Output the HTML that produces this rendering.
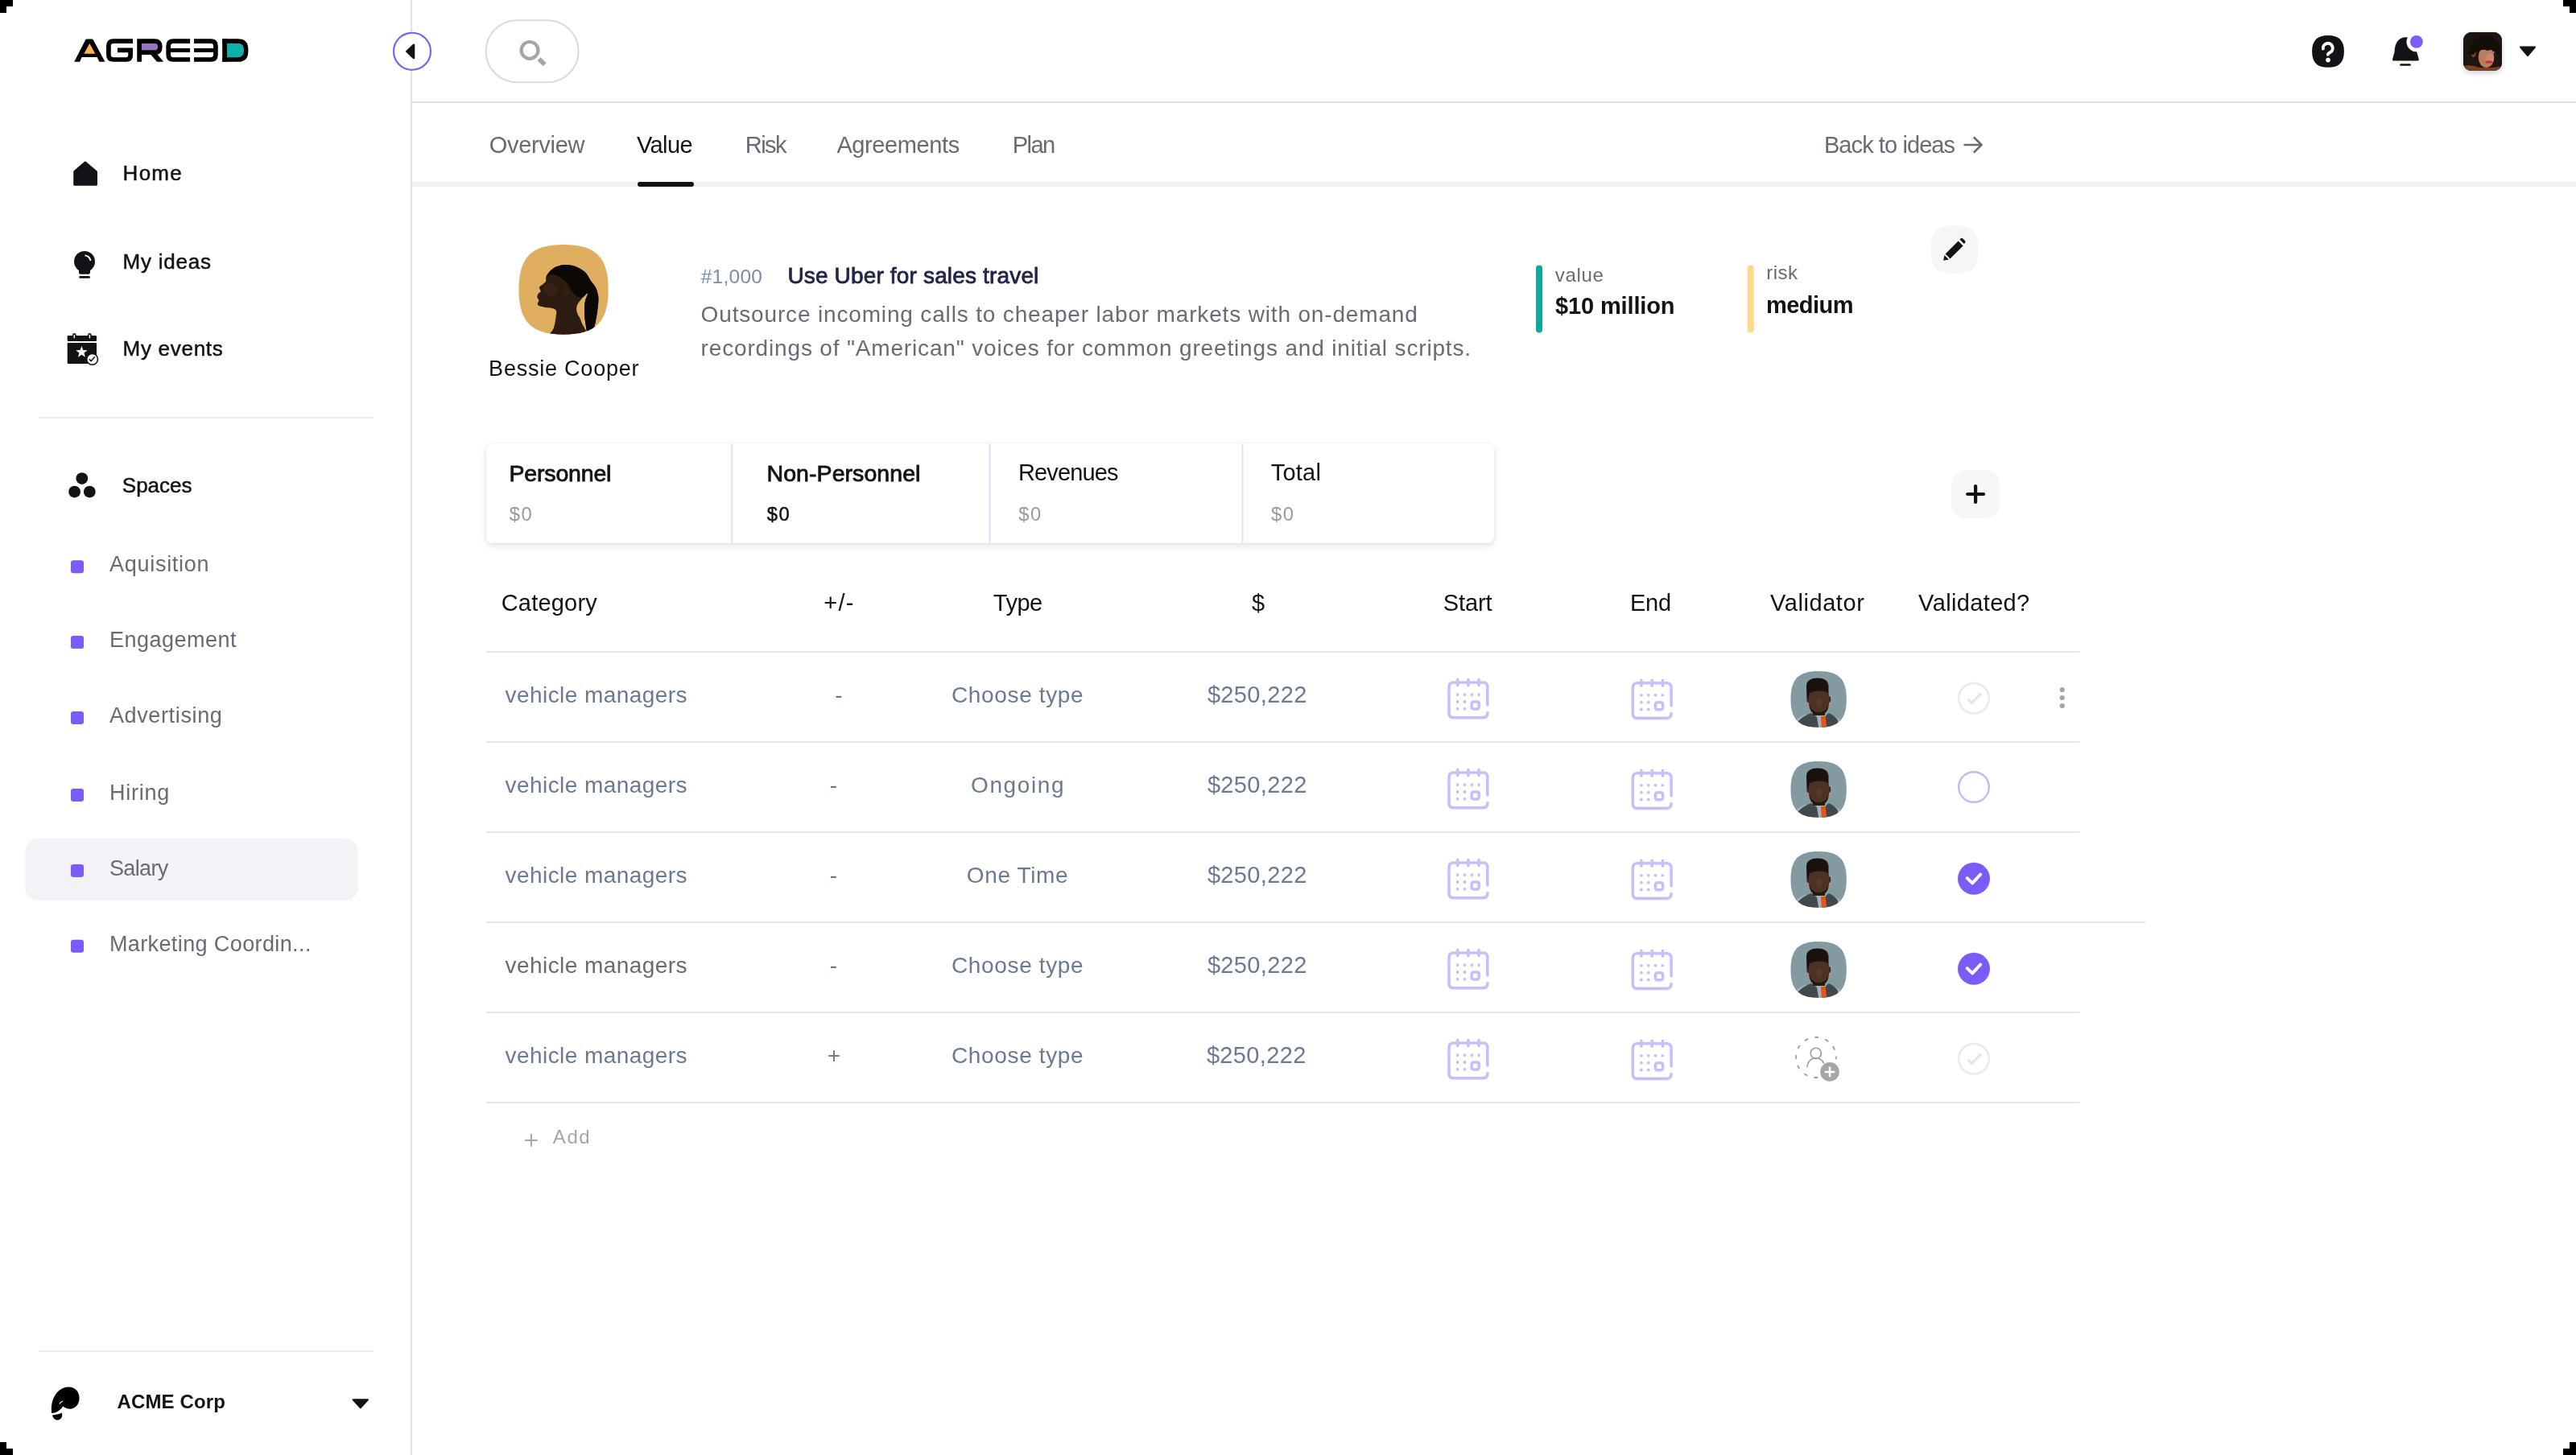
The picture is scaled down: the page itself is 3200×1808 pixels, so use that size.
<!DOCTYPE html>
<html><head><meta charset="utf-8"><title>Agreed - Value</title>
<style>
html,body{margin:0;padding:0;background:#fff;}
body{width:3200px;height:1808px;position:relative;overflow:hidden;font-family:"Liberation Sans",sans-serif;}
.t{position:absolute;white-space:pre;line-height:1;}
.a{position:absolute;}
svg{display:block;}
</style></head><body>
<div class="a" style="left:30.5px;top:1042.3px;width:414.8px;height:77.1px;border-radius:17px;background:#F4F2F7"></div><div class="a" style="left:604px;top:551.4px;width:1252px;height:123.7px;border-radius:8px;background:#fff;box-shadow:0 3px 9px rgba(0,0,0,.12),0 0 3px rgba(0,0,0,.05)"></div><svg class="a" style="left:0;top:0" width="3200" height="1808" viewBox="0 0 3200 1808"><rect x="0" y="0" width="16" height="8" fill="#000"/><rect x="0" y="8" width="8" height="8" fill="#000"/><rect x="3184" y="0" width="16" height="8" fill="#000"/><rect x="3192" y="8" width="8" height="8" fill="#000"/><rect x="0" y="1792" width="8" height="8" fill="#000"/><rect x="0" y="1800" width="16" height="8" fill="#000"/><rect x="3192" y="1792" width="8" height="8" fill="#000"/><rect x="3184" y="1800" width="16" height="8" fill="#000"/><rect x="510" y="0" width="2" height="1808" fill="#E4E0E8"/><rect x="512" y="126" width="2688" height="2" fill="#DFDBE3"/><rect x="512" y="226" width="2688" height="6" fill="#F3F1F6"/><rect x="792" y="226" width="70" height="6" rx="3" fill="#141217"/><g><path d="M92.2,76.8 L106.2,49.6 Q106.8,48.6 108,48.6 L114,48.6 Q115.2,48.6 115.8,49.6 L130.4,76.8 Z" fill="#000"/><path d="M98.9,77.2 L101.6,71 L120.6,71 L123.6,77.2 Z" fill="#fff"/><path d="M111.3,54 L104.3,66.8 L118.3,66.8 Z" fill="#FDB64C"/><path d="M165,51.2 L141,51.2 Q134.9,51.2 134.9,57.2 L134.9,68 Q134.9,74 141,74 L157,74 Q162.1,74 162.1,69 L162.1,62.45 L146,62.45" fill="none" stroke="#000" stroke-width="5.7"/><rect x="146" y="60" width="19" height="4.9" fill="#000"/><path d="M176,54 L192.6,54 Q195.8,54 195.8,57 L195.8,59.8 Q195.8,62.8 192.6,62.8 L176,62.8 Z" fill="#9A72C0"/><path d="M173.1,76.8 L173.1,51.2 L192,51.2 Q198.8,51.2 198.8,58.2 Q198.8,65.2 192,65.2 L176,65.2" fill="none" stroke="#000" stroke-width="5.7"/><path d="M186.5,67 L195,67 L203.2,76.8 L195,76.8 Z" fill="#000"/><path d="M236.1,51.2 L215.2,51.2 Q209.2,51.2 209.2,57.2 L209.2,68 Q209.2,74 215.2,74 L236.1,74" fill="none" stroke="#000" stroke-width="5.7"/><rect x="211" y="60" width="25.1" height="4.9" fill="#000"/><path d="M241,51.2 L261.9,51.2 Q267.9,51.2 267.9,57.2 L267.9,68 Q267.9,74 261.9,74 L241,74" fill="none" stroke="#000" stroke-width="5.7"/><rect x="241" y="60" width="25" height="4.9" fill="#000"/><path d="M282,54 L295.5,54 Q302.5,54 302.5,61 L302.5,64.7 Q302.5,71.7 295.5,71.7 L282,71.7 Z" fill="#0AB2A8"/><path d="M279.1,48.4 L279.1,76.8" stroke="#000" stroke-width="5.8"/><path d="M276.2,51.2 L295.5,51.2 Q305.5,51.2 305.5,61.2 L305.5,64 Q305.5,74 295.5,74 L276.2,74" fill="none" stroke="#000" stroke-width="5.7"/></g><circle cx="512" cy="63.8" r="23" fill="#fff" stroke="#7B5CFA" stroke-width="2.1"/><path d="M505.4,63.9 L514,55.8 L514,72 Z" fill="#141217" stroke="#141217" stroke-width="2.6" stroke-linejoin="round"/><rect x="603.6" y="25.2" width="115" height="77" rx="38.5" fill="#fff" stroke="#DCDADD" stroke-width="2"/><circle cx="658" cy="62.4" r="10.4" fill="none" stroke="#A9A2AD" stroke-width="4.2"/><path d="M669.6,73.2 L676.6,80.2" stroke="#A9A2AD" stroke-width="5.6"/><path d="M2872.10,63.95 C2872.10,50.45 2878.47,44.10 2892.00,44.10 C2905.53,44.10 2911.90,50.45 2911.90,63.95 C2911.90,77.45 2905.53,83.80 2892.00,83.80 C2878.47,83.80 2872.10,77.45 2872.10,63.95 Z" fill="#141217"/><path d="M2885.8,60.6 A6,6 0 1 1 2894.9,64.9 Q2891.8,66.4 2891.8,67.8" fill="none" stroke="#fff" stroke-width="3.9" stroke-linecap="round"/><circle cx="2892" cy="74.6" r="2.8" fill="#fff"/><g transform="translate(2962,34)"><path d="M12,41.6 Q9.4,41.6 10.2,39 L12.6,30.5 C12.6,19 18.5,12.2 26.4,12.2 C34.3,12.2 40.2,19 40.2,30.5 L42.6,39 Q43.4,41.6 40.8,41.6 Z" fill="#141217"/><circle cx="39.9" cy="17.9" r="12.4" fill="#fff"/><circle cx="39.9" cy="17.9" r="7.9" fill="#7E5CFB"/><rect x="19.2" y="45.2" width="13.6" height="2.6" rx="1.3" fill="#141217"/></g><path d="M3131,58.6 L3149,58.6 L3140,69.2 Z" fill="#141217" stroke="#141217" stroke-width="2" stroke-linejoin="round"/><path d="M105.9,201.8 L119.7,213.5 L119.7,229.5 L92.5,229.5 L92.5,213.2 Z" fill="#141217" stroke="#141217" stroke-width="2.5" stroke-linejoin="round"/><circle cx="105" cy="325" r="13" fill="#141217"/><rect x="98" y="331" width="14" height="9.7" rx="2.2" fill="#141217"/><path d="M105.4,317.4 A7.6,7.6 0 0 1 112.6,324.2" fill="none" stroke="#fff" stroke-width="1.9"/><rect x="98.3" y="343.1" width="13.6" height="2.6" rx="1.3" fill="#141217"/><rect x="83.7" y="417" width="36.3" height="6.9" rx="1.2" fill="#141217"/><rect x="83.7" y="426.1" width="36.3" height="25.8" rx="1.2" fill="#141217"/><rect x="90" y="414" width="4.6" height="8" rx="2.3" fill="#141217"/><rect x="109.1" y="414" width="4.6" height="8" rx="2.3" fill="#141217"/><rect x="91.55" y="415.8" width="1.5" height="4.6" rx=".75" fill="#fff"/><rect x="110.65" y="415.8" width="1.5" height="4.6" rx=".75" fill="#fff"/><polygon points="101.40,430.00 103.28,435.01 108.63,435.25 104.44,438.59 105.87,443.75 101.40,440.80 96.93,443.75 98.36,438.59 94.17,435.25 99.52,435.01" fill="#fff"/><circle cx="114.6" cy="446.4" r="6.9" fill="#fff" stroke="#141217" stroke-width="1.6"/><path d="M110.8,446.3 L113.1,448.6 L117.8,443.3" fill="none" stroke="#141217" stroke-width="1.5"/><circle cx="101.8" cy="594.6" r="7.4" fill="#141217"/><circle cx="92.6" cy="611.1" r="7.4" fill="#141217"/><circle cx="111.3" cy="611.1" r="7.4" fill="#141217"/><rect x="48" y="518" width="416" height="2" fill="#EAE9ED"/><rect x="48" y="1678" width="416" height="2" fill="#EAE9ED"/><rect x="88" y="696.3" width="16" height="16" rx="3.2" fill="#7B5CFA"/><rect x="88" y="790.1" width="16" height="16" rx="3.2" fill="#7B5CFA"/><rect x="88" y="883.9" width="16" height="16" rx="3.2" fill="#7B5CFA"/><rect x="88" y="980.0" width="16" height="16" rx="3.2" fill="#7B5CFA"/><rect x="88" y="1074.0" width="16" height="16" rx="3.2" fill="#7B5CFA"/><rect x="88" y="1167.8" width="16" height="16" rx="3.2" fill="#7B5CFA"/><g transform="translate(55,1715)"><path d="M9.2,41 C7.2,25 15,9.5 29.5,8.5 C38.5,8 44,15 43.6,23 C43.2,31 37.5,36 31.5,35.7 C27.5,35.5 24.8,33.8 23.3,32.5 C19.5,37.8 14.5,41 9.2,41 Z" fill="#000"/><path d="M10,43.4 C14,43.4 18.6,42.4 21.8,40.6 C23.2,44.6 21.5,49.4 16.6,49.5 C12.5,49.6 10.5,46 10,43.4 Z" fill="#000"/><path d="M19,29.5 Q20,26.8 23.2,26" fill="none" stroke="#fff" stroke-width="1.2"/></g><path d="M438.6,1739.2 L457,1739.2 L447.8,1749.2 Z" fill="#141217" stroke="#141217" stroke-width="2" stroke-linejoin="round"/><clipPath id="clipB"><path d="M644.50,359.85 C644.50,319.64 660.07,304.00 700.10,304.00 C740.13,304.00 755.70,319.64 755.70,359.85 C755.70,400.06 740.13,415.70 700.10,415.70 C660.07,415.70 644.50,400.06 644.50,359.85 Z"/></clipPath><g clip-path="url(#clipB)"><rect x="640" y="300" width="120" height="120" fill="#DFAE60"/><g transform="translate(636,296)"><path d="M53.6,88.5 C50.7,86.0 44.5,86.9 40.2,85.8 C35.9,84.7 33.6,84.9 32.2,83.1 C30.8,81.3 33.5,79.0 33.3,77.0 C33.1,75.0 31.3,75.0 31.3,73.3 C31.3,71.6 32.2,69.9 33.1,68.5 C34.0,67.1 35.5,67.6 35.7,66.1 C35.9,64.6 33.5,62.8 34.0,61.0 C34.5,59.2 36.8,58.7 38.4,57.2 C40.0,55.7 41.1,55.7 42.0,53.6 C42.9,51.5 41.3,49.5 42.9,46.5 C44.5,43.5 47.0,40.8 50.0,38.4 C53.0,36.0 54.2,35.4 58.1,34.4 C62.0,33.4 65.2,32.9 69.7,33.2 C74.2,33.5 76.5,34.1 80.4,35.7 C84.3,37.3 86.5,38.8 89.4,41.1 C92.3,43.4 92.9,44.9 94.7,47.4 C96.5,49.9 96.5,50.9 98.3,53.6 C100.1,56.3 102.1,57.9 103.7,60.8 C105.3,63.7 105.6,64.9 106.3,67.9 C107.0,70.9 107.4,71.7 107.4,76.0 C107.4,80.3 106.9,84.0 106.2,89.4 C105.5,94.8 104.8,98.3 104.0,102.8 C103.2,107.3 102.9,107.4 102.0,112.0 C101.1,116.6 101.3,123.2 99.5,126.0 C97.7,128.8 94.4,128.3 93.0,126.0 C91.6,123.7 93.1,119.6 92.6,114.4 C92.1,109.2 91.0,105.3 90.5,100.0 C90.0,94.7 89.9,92.4 90.0,88.0 C90.1,83.6 90.2,81.9 91.0,78.0 C91.8,74.1 94.8,68.9 93.8,68.5 C92.8,68.1 88.7,72.7 86.0,76.0 C83.3,79.3 81.3,81.3 80.4,84.9 C79.5,88.5 80.4,90.4 81.5,94.0 C82.6,97.6 83.9,96.6 85.8,103.0 C87.7,109.4 98.8,121.4 91.0,126.0 C83.2,130.6 54.8,128.9 47.0,126.0 C39.2,123.1 50.3,117.2 51.8,111.7 C53.3,106.2 54.1,102.9 54.5,98.3 C54.9,93.7 56.5,91.0 53.6,88.5 Z" fill="#2C1B11"/><path d="M43.5,47.0 C43.1,45.7 47.1,40.9 50.0,38.4 C52.9,35.9 54.2,35.4 58.1,34.4 C62.0,33.4 65.2,32.9 69.7,33.2 C74.2,33.5 76.5,34.1 80.4,35.7 C84.3,37.3 86.5,38.8 89.4,41.1 C92.3,43.4 92.9,44.9 94.7,47.4 C96.5,49.9 96.5,50.9 98.3,53.6 C100.1,56.3 102.1,57.9 103.7,60.8 C105.3,63.7 105.6,64.9 106.3,67.9 C107.0,70.9 107.4,71.7 107.4,76.0 C107.4,80.3 106.9,84.0 106.2,89.4 C105.5,94.8 104.8,98.3 104.0,102.8 C103.2,107.3 102.9,107.4 102.0,112.0 C101.1,116.6 101.3,123.2 99.5,126.0 C97.7,128.8 94.4,128.3 93.0,126.0 C91.6,123.7 93.1,119.6 92.6,114.4 C92.1,109.2 91.0,105.3 90.5,100.0 C90.0,94.7 89.9,92.4 90.0,88.0 C90.1,83.6 90.2,81.9 91.0,78.0 C91.8,74.1 94.8,69.3 93.8,68.5 C92.8,67.7 89.6,74.1 86.0,74.0 C82.4,73.9 79.2,71.2 76.0,68.0 C72.8,64.8 72.8,61.6 70.0,58.0 C67.2,54.4 65.6,52.6 62.0,50.0 C58.4,47.4 55.7,45.6 52.0,45.0 C48.3,44.4 43.9,48.3 43.5,47.0 Z" fill="#0C0806"/><ellipse cx="67" cy="67" rx="3.4" ry="5.5" fill="#33200F"/><path d="M44.0,56.0 C47.2,55.5 48.8,55.3 52.0,58.0 C55.2,60.7 56.5,62.3 56.0,66.0 C55.5,69.7 53.7,71.5 50.0,72.0 C46.3,72.5 44.7,71.2 42.0,68.0 C39.3,64.8 39.5,63.2 40.0,60.0 C40.5,56.8 40.8,56.5 44.0,56.0 Z" fill="#3F2819" opacity=".6"/></g></g><rect x="1908" y="329.4" width="8" height="84" rx="4" fill="#10A89D"/><rect x="2170.7" y="329.4" width="8" height="84" rx="4" fill="#FDD98A"/><path d="M2398.30,310.20 C2398.30,287.63 2405.43,280.50 2428.00,280.50 C2450.57,280.50 2457.70,287.63 2457.70,310.20 C2457.70,332.77 2450.57,339.90 2428.00,339.90 C2405.43,339.90 2398.30,332.77 2398.30,310.20 Z" fill="#F5F6F8"/><g transform="translate(2398,280)"><path d="M18.6,35.5 L34.6,19.4 L40.6,25.4 L24.5,41.4 Z" fill="#141217"/><path d="M36.4,17.4 L37.4,16.4 Q38.8,15 40.2,16.4 L42.9,19.1 Q44.3,20.5 42.9,21.9 L41.9,22.9 Z" fill="#141217"/><path d="M16.1,43.7 L17.5,37.1 L22.9,42.5 Z" fill="#141217"/></g><rect x="908.2" y="551.4" width="2" height="123.7" fill="#DFE2F1"/><rect x="1228.6" y="551.4" width="2" height="123.7" fill="#DFE2F1"/><rect x="1542.5" y="551.4" width="2" height="123.7" fill="#DFE2F1"/><rect x="2424.2" y="584.2" width="59.7" height="59.7" rx="17" fill="#F6F7F9"/><path d="M2444.2,614 L2464.1,614 M2454.1,604.1 L2454.1,623.9" stroke="#141217" stroke-width="4.2" stroke-linecap="round"/><rect x="604" y="809" width="1979.4" height="2" fill="#E4E4EA"/><rect x="604" y="921" width="1979.4" height="2" fill="#E4E4EA"/><rect x="604" y="1033" width="1979.4" height="2" fill="#E4E4EA"/><rect x="604" y="1145" width="2061" height="2" fill="#E4E4EA"/><rect x="604" y="1257" width="1979.4" height="2" fill="#E4E4EA"/><rect x="604" y="1369" width="1979.4" height="2" fill="#E4E4EA"/><g transform="translate(1790,835)" fill="none" stroke="#CBBDFB" stroke-width="3.6" stroke-linecap="round"><path d="M57.8,41 V19 Q57.8,13 51.8,13 H16 Q10,13 10,19 V50.7 Q10,56.7 16,56.7 H51.8 Q57.8,56.7 57.8,50.7"/><path d="M20.6,9.6 V16.6 M33.9,9.6 V16.6 M47.1,9.6 V16.6"/><rect x="38.2" y="37" width="9.1" height="9" rx="2.4"/></g><g fill="#CBBDFB"><circle cx="1810.6" cy="863.1" r="1.9"/><circle cx="1819.5" cy="863.1" r="1.9"/><circle cx="1828.3" cy="863.1" r="1.9"/><circle cx="1837.1" cy="863.1" r="1.9"/><circle cx="1810.6" cy="872.0" r="1.9"/><circle cx="1819.5" cy="872.0" r="1.9"/><circle cx="1810.6" cy="880.8" r="1.9"/><circle cx="1819.5" cy="880.8" r="1.9"/></g><g transform="translate(2018.3,835.7)" fill="none" stroke="#CBBDFB" stroke-width="3.6" stroke-linecap="round"><path d="M57.8,41 V19 Q57.8,13 51.8,13 H16 Q10,13 10,19 V50.7 Q10,56.7 16,56.7 H51.8 Q57.8,56.7 57.8,50.7"/><path d="M20.6,9.6 V16.6 M33.9,9.6 V16.6 M47.1,9.6 V16.6"/><rect x="38.2" y="37" width="9.1" height="9" rx="2.4"/></g><g fill="#CBBDFB"><circle cx="2038.9" cy="863.8" r="1.9"/><circle cx="2047.8" cy="863.8" r="1.9"/><circle cx="2056.6" cy="863.8" r="1.9"/><circle cx="2065.4" cy="863.8" r="1.9"/><circle cx="2038.9" cy="872.7" r="1.9"/><circle cx="2047.8" cy="872.7" r="1.9"/><circle cx="2038.9" cy="881.5" r="1.9"/><circle cx="2047.8" cy="881.5" r="1.9"/></g><clipPath id="clipM0"><path d="M2224.50,868.85 C2224.50,843.69 2234.20,833.90 2259.15,833.90 C2284.10,833.90 2293.80,843.69 2293.80,868.85 C2293.80,894.01 2284.10,903.80 2259.15,903.80 C2234.20,903.80 2224.50,894.01 2224.50,868.85 Z"/></clipPath><g clip-path="url(#clipM0)"><g transform="translate(2219,829)"><rect x="0" y="0" width="80" height="80" fill="#8499A0"/><path d="M6,80 L9,69 Q14,62 24,59 L56,59 Q64,62 70,68 L74,80 Z" fill="#A2B2B7"/><path d="M14,80 L15,67 Q22,60 31,57 L38,62 L41,80 Z M45,80 L49,60 L53,57 Q60,60 64,66 L63,80 Z" fill="#43484D"/><path d="M43,61 L48.6,61 L50.2,74 L47.5,80 L44,80 Z" fill="#E4541F"/><rect x="33" y="50" width="15" height="10" fill="#2F1E16"/><ellipse cx="27.5" cy="40" rx="2.2" ry="4" fill="#3E271D"/><ellipse cx="53" cy="40" rx="2.2" ry="4" fill="#3E271D"/><path d="M25.5,38 L25,24 Q25,14 38.5,13.5 Q52,13.5 52.5,24 L52.5,36 Z" fill="#17120F"/><path d="M28,35 Q28,29.5 40.5,29.5 Q53,29.5 53,35 L53,46 Q52,58 40.5,59 Q29,58 28,46 Z" fill="#4D3124"/><path d="M29,48 Q32,56 40.5,56.5 Q49,56 52,48 Q52,58 40.5,59.5 Q29,58 29,48 Z" fill="#22140E"/><ellipse cx="41" cy="44" rx="4" ry="6" fill="#5E3D2C" opacity=".6"/></g></g><circle cx="2452" cy="867.8" r="18.8" fill="none" stroke="#EBEBEC" stroke-width="2.5"/><path d="M2444.6,868.9 L2449.2,873.6 L2460.9,861.6" fill="none" stroke="#E6E6E8" stroke-width="3"/><g transform="translate(1790,947)" fill="none" stroke="#CBBDFB" stroke-width="3.6" stroke-linecap="round"><path d="M57.8,41 V19 Q57.8,13 51.8,13 H16 Q10,13 10,19 V50.7 Q10,56.7 16,56.7 H51.8 Q57.8,56.7 57.8,50.7"/><path d="M20.6,9.6 V16.6 M33.9,9.6 V16.6 M47.1,9.6 V16.6"/><rect x="38.2" y="37" width="9.1" height="9" rx="2.4"/></g><g fill="#CBBDFB"><circle cx="1810.6" cy="975.1" r="1.9"/><circle cx="1819.5" cy="975.1" r="1.9"/><circle cx="1828.3" cy="975.1" r="1.9"/><circle cx="1837.1" cy="975.1" r="1.9"/><circle cx="1810.6" cy="984.0" r="1.9"/><circle cx="1819.5" cy="984.0" r="1.9"/><circle cx="1810.6" cy="992.8" r="1.9"/><circle cx="1819.5" cy="992.8" r="1.9"/></g><g transform="translate(2018.3,947.7)" fill="none" stroke="#CBBDFB" stroke-width="3.6" stroke-linecap="round"><path d="M57.8,41 V19 Q57.8,13 51.8,13 H16 Q10,13 10,19 V50.7 Q10,56.7 16,56.7 H51.8 Q57.8,56.7 57.8,50.7"/><path d="M20.6,9.6 V16.6 M33.9,9.6 V16.6 M47.1,9.6 V16.6"/><rect x="38.2" y="37" width="9.1" height="9" rx="2.4"/></g><g fill="#CBBDFB"><circle cx="2038.9" cy="975.8" r="1.9"/><circle cx="2047.8" cy="975.8" r="1.9"/><circle cx="2056.6" cy="975.8" r="1.9"/><circle cx="2065.4" cy="975.8" r="1.9"/><circle cx="2038.9" cy="984.7" r="1.9"/><circle cx="2047.8" cy="984.7" r="1.9"/><circle cx="2038.9" cy="993.5" r="1.9"/><circle cx="2047.8" cy="993.5" r="1.9"/></g><clipPath id="clipM1"><path d="M2224.50,980.85 C2224.50,955.69 2234.20,945.90 2259.15,945.90 C2284.10,945.90 2293.80,955.69 2293.80,980.85 C2293.80,1006.01 2284.10,1015.80 2259.15,1015.80 C2234.20,1015.80 2224.50,1006.01 2224.50,980.85 Z"/></clipPath><g clip-path="url(#clipM1)"><g transform="translate(2219,941)"><rect x="0" y="0" width="80" height="80" fill="#8499A0"/><path d="M6,80 L9,69 Q14,62 24,59 L56,59 Q64,62 70,68 L74,80 Z" fill="#A2B2B7"/><path d="M14,80 L15,67 Q22,60 31,57 L38,62 L41,80 Z M45,80 L49,60 L53,57 Q60,60 64,66 L63,80 Z" fill="#43484D"/><path d="M43,61 L48.6,61 L50.2,74 L47.5,80 L44,80 Z" fill="#E4541F"/><rect x="33" y="50" width="15" height="10" fill="#2F1E16"/><ellipse cx="27.5" cy="40" rx="2.2" ry="4" fill="#3E271D"/><ellipse cx="53" cy="40" rx="2.2" ry="4" fill="#3E271D"/><path d="M25.5,38 L25,24 Q25,14 38.5,13.5 Q52,13.5 52.5,24 L52.5,36 Z" fill="#17120F"/><path d="M28,35 Q28,29.5 40.5,29.5 Q53,29.5 53,35 L53,46 Q52,58 40.5,59 Q29,58 28,46 Z" fill="#4D3124"/><path d="M29,48 Q32,56 40.5,56.5 Q49,56 52,48 Q52,58 40.5,59.5 Q29,58 29,48 Z" fill="#22140E"/><ellipse cx="41" cy="44" rx="4" ry="6" fill="#5E3D2C" opacity=".6"/></g></g><circle cx="2452" cy="978.0" r="18.8" fill="none" stroke="#C9B7FB" stroke-width="2.4"/><g transform="translate(1790,1059)" fill="none" stroke="#CBBDFB" stroke-width="3.6" stroke-linecap="round"><path d="M57.8,41 V19 Q57.8,13 51.8,13 H16 Q10,13 10,19 V50.7 Q10,56.7 16,56.7 H51.8 Q57.8,56.7 57.8,50.7"/><path d="M20.6,9.6 V16.6 M33.9,9.6 V16.6 M47.1,9.6 V16.6"/><rect x="38.2" y="37" width="9.1" height="9" rx="2.4"/></g><g fill="#CBBDFB"><circle cx="1810.6" cy="1087.1" r="1.9"/><circle cx="1819.5" cy="1087.1" r="1.9"/><circle cx="1828.3" cy="1087.1" r="1.9"/><circle cx="1837.1" cy="1087.1" r="1.9"/><circle cx="1810.6" cy="1096.0" r="1.9"/><circle cx="1819.5" cy="1096.0" r="1.9"/><circle cx="1810.6" cy="1104.8" r="1.9"/><circle cx="1819.5" cy="1104.8" r="1.9"/></g><g transform="translate(2018.3,1059.7)" fill="none" stroke="#CBBDFB" stroke-width="3.6" stroke-linecap="round"><path d="M57.8,41 V19 Q57.8,13 51.8,13 H16 Q10,13 10,19 V50.7 Q10,56.7 16,56.7 H51.8 Q57.8,56.7 57.8,50.7"/><path d="M20.6,9.6 V16.6 M33.9,9.6 V16.6 M47.1,9.6 V16.6"/><rect x="38.2" y="37" width="9.1" height="9" rx="2.4"/></g><g fill="#CBBDFB"><circle cx="2038.9" cy="1087.8" r="1.9"/><circle cx="2047.8" cy="1087.8" r="1.9"/><circle cx="2056.6" cy="1087.8" r="1.9"/><circle cx="2065.4" cy="1087.8" r="1.9"/><circle cx="2038.9" cy="1096.7" r="1.9"/><circle cx="2047.8" cy="1096.7" r="1.9"/><circle cx="2038.9" cy="1105.5" r="1.9"/><circle cx="2047.8" cy="1105.5" r="1.9"/></g><clipPath id="clipM2"><path d="M2224.50,1092.85 C2224.50,1067.69 2234.20,1057.90 2259.15,1057.90 C2284.10,1057.90 2293.80,1067.69 2293.80,1092.85 C2293.80,1118.01 2284.10,1127.80 2259.15,1127.80 C2234.20,1127.80 2224.50,1118.01 2224.50,1092.85 Z"/></clipPath><g clip-path="url(#clipM2)"><g transform="translate(2219,1053)"><rect x="0" y="0" width="80" height="80" fill="#8499A0"/><path d="M6,80 L9,69 Q14,62 24,59 L56,59 Q64,62 70,68 L74,80 Z" fill="#A2B2B7"/><path d="M14,80 L15,67 Q22,60 31,57 L38,62 L41,80 Z M45,80 L49,60 L53,57 Q60,60 64,66 L63,80 Z" fill="#43484D"/><path d="M43,61 L48.6,61 L50.2,74 L47.5,80 L44,80 Z" fill="#E4541F"/><rect x="33" y="50" width="15" height="10" fill="#2F1E16"/><ellipse cx="27.5" cy="40" rx="2.2" ry="4" fill="#3E271D"/><ellipse cx="53" cy="40" rx="2.2" ry="4" fill="#3E271D"/><path d="M25.5,38 L25,24 Q25,14 38.5,13.5 Q52,13.5 52.5,24 L52.5,36 Z" fill="#17120F"/><path d="M28,35 Q28,29.5 40.5,29.5 Q53,29.5 53,35 L53,46 Q52,58 40.5,59 Q29,58 28,46 Z" fill="#4D3124"/><path d="M29,48 Q32,56 40.5,56.5 Q49,56 52,48 Q52,58 40.5,59.5 Q29,58 29,48 Z" fill="#22140E"/><ellipse cx="41" cy="44" rx="4" ry="6" fill="#5E3D2C" opacity=".6"/></g></g><circle cx="2452" cy="1091.8" r="20" fill="#7B5CFA"/><path d="M2443.6,1091.2 L2450.2,1097.4 L2460.2,1086.6" fill="none" stroke="#fff" stroke-width="3.8" stroke-linecap="round" stroke-linejoin="round"/><g transform="translate(1790,1171)" fill="none" stroke="#CBBDFB" stroke-width="3.6" stroke-linecap="round"><path d="M57.8,41 V19 Q57.8,13 51.8,13 H16 Q10,13 10,19 V50.7 Q10,56.7 16,56.7 H51.8 Q57.8,56.7 57.8,50.7"/><path d="M20.6,9.6 V16.6 M33.9,9.6 V16.6 M47.1,9.6 V16.6"/><rect x="38.2" y="37" width="9.1" height="9" rx="2.4"/></g><g fill="#CBBDFB"><circle cx="1810.6" cy="1199.1" r="1.9"/><circle cx="1819.5" cy="1199.1" r="1.9"/><circle cx="1828.3" cy="1199.1" r="1.9"/><circle cx="1837.1" cy="1199.1" r="1.9"/><circle cx="1810.6" cy="1208.0" r="1.9"/><circle cx="1819.5" cy="1208.0" r="1.9"/><circle cx="1810.6" cy="1216.8" r="1.9"/><circle cx="1819.5" cy="1216.8" r="1.9"/></g><g transform="translate(2018.3,1171.7)" fill="none" stroke="#CBBDFB" stroke-width="3.6" stroke-linecap="round"><path d="M57.8,41 V19 Q57.8,13 51.8,13 H16 Q10,13 10,19 V50.7 Q10,56.7 16,56.7 H51.8 Q57.8,56.7 57.8,50.7"/><path d="M20.6,9.6 V16.6 M33.9,9.6 V16.6 M47.1,9.6 V16.6"/><rect x="38.2" y="37" width="9.1" height="9" rx="2.4"/></g><g fill="#CBBDFB"><circle cx="2038.9" cy="1199.8" r="1.9"/><circle cx="2047.8" cy="1199.8" r="1.9"/><circle cx="2056.6" cy="1199.8" r="1.9"/><circle cx="2065.4" cy="1199.8" r="1.9"/><circle cx="2038.9" cy="1208.7" r="1.9"/><circle cx="2047.8" cy="1208.7" r="1.9"/><circle cx="2038.9" cy="1217.5" r="1.9"/><circle cx="2047.8" cy="1217.5" r="1.9"/></g><clipPath id="clipM3"><path d="M2224.50,1204.85 C2224.50,1179.69 2234.20,1169.90 2259.15,1169.90 C2284.10,1169.90 2293.80,1179.69 2293.80,1204.85 C2293.80,1230.01 2284.10,1239.80 2259.15,1239.80 C2234.20,1239.80 2224.50,1230.01 2224.50,1204.85 Z"/></clipPath><g clip-path="url(#clipM3)"><g transform="translate(2219,1165)"><rect x="0" y="0" width="80" height="80" fill="#8499A0"/><path d="M6,80 L9,69 Q14,62 24,59 L56,59 Q64,62 70,68 L74,80 Z" fill="#A2B2B7"/><path d="M14,80 L15,67 Q22,60 31,57 L38,62 L41,80 Z M45,80 L49,60 L53,57 Q60,60 64,66 L63,80 Z" fill="#43484D"/><path d="M43,61 L48.6,61 L50.2,74 L47.5,80 L44,80 Z" fill="#E4541F"/><rect x="33" y="50" width="15" height="10" fill="#2F1E16"/><ellipse cx="27.5" cy="40" rx="2.2" ry="4" fill="#3E271D"/><ellipse cx="53" cy="40" rx="2.2" ry="4" fill="#3E271D"/><path d="M25.5,38 L25,24 Q25,14 38.5,13.5 Q52,13.5 52.5,24 L52.5,36 Z" fill="#17120F"/><path d="M28,35 Q28,29.5 40.5,29.5 Q53,29.5 53,35 L53,46 Q52,58 40.5,59 Q29,58 28,46 Z" fill="#4D3124"/><path d="M29,48 Q32,56 40.5,56.5 Q49,56 52,48 Q52,58 40.5,59.5 Q29,58 29,48 Z" fill="#22140E"/><ellipse cx="41" cy="44" rx="4" ry="6" fill="#5E3D2C" opacity=".6"/></g></g><circle cx="2452" cy="1203.8" r="20" fill="#7B5CFA"/><path d="M2443.6,1203.2 L2450.2,1209.4 L2460.2,1198.6" fill="none" stroke="#fff" stroke-width="3.8" stroke-linecap="round" stroke-linejoin="round"/><g transform="translate(1790,1283)" fill="none" stroke="#CBBDFB" stroke-width="3.6" stroke-linecap="round"><path d="M57.8,41 V19 Q57.8,13 51.8,13 H16 Q10,13 10,19 V50.7 Q10,56.7 16,56.7 H51.8 Q57.8,56.7 57.8,50.7"/><path d="M20.6,9.6 V16.6 M33.9,9.6 V16.6 M47.1,9.6 V16.6"/><rect x="38.2" y="37" width="9.1" height="9" rx="2.4"/></g><g fill="#CBBDFB"><circle cx="1810.6" cy="1311.1" r="1.9"/><circle cx="1819.5" cy="1311.1" r="1.9"/><circle cx="1828.3" cy="1311.1" r="1.9"/><circle cx="1837.1" cy="1311.1" r="1.9"/><circle cx="1810.6" cy="1320.0" r="1.9"/><circle cx="1819.5" cy="1320.0" r="1.9"/><circle cx="1810.6" cy="1328.8" r="1.9"/><circle cx="1819.5" cy="1328.8" r="1.9"/></g><g transform="translate(2018.3,1283.7)" fill="none" stroke="#CBBDFB" stroke-width="3.6" stroke-linecap="round"><path d="M57.8,41 V19 Q57.8,13 51.8,13 H16 Q10,13 10,19 V50.7 Q10,56.7 16,56.7 H51.8 Q57.8,56.7 57.8,50.7"/><path d="M20.6,9.6 V16.6 M33.9,9.6 V16.6 M47.1,9.6 V16.6"/><rect x="38.2" y="37" width="9.1" height="9" rx="2.4"/></g><g fill="#CBBDFB"><circle cx="2038.9" cy="1311.8" r="1.9"/><circle cx="2047.8" cy="1311.8" r="1.9"/><circle cx="2056.6" cy="1311.8" r="1.9"/><circle cx="2065.4" cy="1311.8" r="1.9"/><circle cx="2038.9" cy="1320.7" r="1.9"/><circle cx="2047.8" cy="1320.7" r="1.9"/><circle cx="2038.9" cy="1329.5" r="1.9"/><circle cx="2047.8" cy="1329.5" r="1.9"/></g><circle cx="2452" cy="1315.8" r="18.8" fill="none" stroke="#EBEBEC" stroke-width="2.5"/><path d="M2444.6,1316.9 L2449.2,1321.6 L2460.9,1309.6" fill="none" stroke="#E6E6E8" stroke-width="3"/><circle cx="2561.8" cy="857" r="3.1" fill="#A5A5A7"/><circle cx="2561.8" cy="867" r="3.1" fill="#A5A5A7"/><circle cx="2561.8" cy="877" r="3.1" fill="#A5A5A7"/><circle cx="2256" cy="1314" r="25" fill="none" stroke="#9E9E9E" stroke-width="1.8" stroke-dasharray="5 8.09" stroke-dashoffset="2.5"/><circle cx="2255.8" cy="1308.8" r="6.6" fill="none" stroke="#9E9E9E" stroke-width="1.6"/><path d="M2245,1326.4 A10.8,10.8 0 0 1 2265.8,1321.6" fill="none" stroke="#9E9E9E" stroke-width="1.6"/><circle cx="2273" cy="1331.9" r="11.8" fill="#A6A6A6"/><path d="M2266.7,1331.9 H2279.3 M2273,1325.6 V1338.2" stroke="#fff" stroke-width="2.5"/><path d="M652.1,1416.9 H667.7 M659.9,1409.1 V1424.7" stroke="#A6A6AA" stroke-width="2"/></svg><div class="a" style="left:3060px;top:40px;width:48px;height:48px;border-radius:10px;overflow:hidden;box-shadow:0 3px 7px rgba(0,0,0,.18);background:#1E1511"><svg width="48" height="48" viewBox="0 0 48 48"><rect width="48" height="48" fill="#1E1511"/><path d="M0,48 L0,42 Q10,40 20,44 L38,44 Q44,42 48,44 L48,48 Z" fill="#7A4226"/><ellipse cx="28.5" cy="31" rx="9.8" ry="13" fill="#BE7C58"/><ellipse cx="33" cy="33" rx="5" ry="7" fill="#D09272" opacity=".7"/><ellipse cx="12.8" cy="26" rx="2.6" ry="5" fill="#7A4A30"/><path d="M6,27 Q10,3 30,4 Q47,6 46,31 L41,25 Q36,20 30,23 Q24,20 19,24 Q15,23 13,28 Z" fill="#140E0B"/><ellipse cx="25" cy="26" rx="2" ry="1.2" fill="#8C8AA0"/><ellipse cx="37" cy="25" rx="2" ry="1.2" fill="#7E7C96"/><ellipse cx="32" cy="37" rx="4.5" ry="1.8" fill="#C8305C"/></svg></div><svg class="a" style="left:2436px;top:166px" width="30" height="30" viewBox="2436 166 30 30"><path d="M2440.6,180 H2461.6 M2452.6,171.2 L2461.6,180 L2452.6,188.8" fill="none" stroke="#6E6874" stroke-width="2.6" stroke-linecap="round" stroke-linejoin="round"/></svg>
<div class="a" style="left:0;top:0;width:3200px;height:1808px;will-change:transform">
<div class="t" style="left:152.6px;top:201.7px;font-size:26px;color:#141217;letter-spacing:1.27px;-webkit-text-stroke:0.5px #141217;">Home</div>
<div class="t" style="left:152.6px;top:311.6px;font-size:26px;color:#141217;letter-spacing:0.76px;-webkit-text-stroke:0.5px #141217;">My ideas</div>
<div class="t" style="left:152.6px;top:419.9px;font-size:26px;color:#141217;letter-spacing:0.71px;-webkit-text-stroke:0.5px #141217;">My events</div>
<div class="t" style="left:151.8px;top:590.2px;font-size:26px;color:#141217;-webkit-text-stroke:0.5px #141217;">Spaces</div>
<div class="t" style="left:135.9px;top:688.1px;font-size:27px;color:#6E6874;letter-spacing:0.74px;">Aquisition</div>
<div class="t" style="left:135.9px;top:781.9px;font-size:27px;color:#6E6874;letter-spacing:0.50px;">Engagement</div>
<div class="t" style="left:135.9px;top:875.7px;font-size:27px;color:#6E6874;letter-spacing:0.64px;">Advertising</div>
<div class="t" style="left:135.9px;top:971.9px;font-size:27px;color:#6E6874;letter-spacing:0.78px;">Hiring</div>
<div class="t" style="left:135.9px;top:1066.3px;font-size:27px;color:#6E6874;letter-spacing:-0.62px;">Salary</div>
<div class="t" style="left:135.9px;top:1159.7px;font-size:27px;color:#6E6874;letter-spacing:0.39px;">Marketing Coordin...</div>
<div class="t" style="left:145.5px;top:1730.4px;font-size:24px;color:#141217;font-weight:700;letter-spacing:0.13px;">ACME Corp</div>
<div class="t" style="left:607.7px;top:166.4px;font-size:29px;color:#6E6874;letter-spacing:-0.30px;">Overview</div>
<div class="t" style="left:791.0px;top:166.4px;font-size:29px;color:#141217;letter-spacing:-0.62px;">Value</div>
<div class="t" style="left:925.8px;top:166.4px;font-size:29px;color:#6E6874;letter-spacing:-1.60px;">Risk</div>
<div class="t" style="left:1039.4px;top:166.4px;font-size:29px;color:#6E6874;letter-spacing:-0.39px;">Agreements</div>
<div class="t" style="left:1257.8px;top:166.4px;font-size:29px;color:#6E6874;letter-spacing:-1.57px;">Plan</div>
<div class="t" style="left:2265.9px;top:166.4px;font-size:29px;color:#6E6874;letter-spacing:-0.91px;">Back to ideas</div>
<div class="t" style="left:607.1px;top:445.4px;font-size:27px;color:#141217;letter-spacing:0.78px;">Bessie Cooper</div>
<div class="t" style="left:870.7px;top:332.0px;font-size:24.5px;color:#7A8DA5;letter-spacing:0.27px;">#1,000</div>
<div class="t" style="left:978.4px;top:328.9px;font-size:28px;color:#23244A;letter-spacing:0.16px;-webkit-text-stroke:0.8px #23244A;">Use Uber for sales travel</div>
<div class="t" style="left:870.6px;top:376.7px;font-size:28px;color:#6E6874;letter-spacing:0.84px;">Outsource incoming calls to cheaper labor markets with on-demand</div>
<div class="t" style="left:870.6px;top:418.9px;font-size:28px;color:#6E6874;letter-spacing:0.84px;">recordings of &quot;American&quot; voices for common greetings and initial scripts.</div>
<div class="t" style="left:1931.8px;top:329.5px;font-size:24px;color:#6E6874;letter-spacing:0.67px;">value</div>
<div class="t" style="left:1932.1px;top:366.3px;font-size:29px;color:#141217;font-weight:700;letter-spacing:-0.15px;">$10 million</div>
<div class="t" style="left:2194.3px;top:327.3px;font-size:24px;color:#6E6874;letter-spacing:0.44px;">risk</div>
<div class="t" style="left:2194.1px;top:364.7px;font-size:29px;color:#141217;font-weight:700;letter-spacing:-0.57px;">medium</div>
<div class="t" style="left:632.5px;top:573.5px;font-size:28.5px;color:#141217;letter-spacing:-0.18px;-webkit-text-stroke:0.85px #141217;">Personnel</div>
<div class="t" style="left:632.7px;top:626.6px;font-size:23.8px;color:#9A9A9E;letter-spacing:1.60px;">$0</div>
<div class="t" style="left:952.5px;top:573.5px;font-size:28.5px;color:#141217;letter-spacing:0.07px;-webkit-text-stroke:0.85px #141217;">Non-Personnel</div>
<div class="t" style="left:952.7px;top:626.6px;font-size:23.8px;color:#141217;letter-spacing:1.60px;-webkit-text-stroke:0.45px #141217;">$0</div>
<div class="t" style="left:1265.0px;top:573.0px;font-size:29px;color:#141217;letter-spacing:-0.88px;">Revenues</div>
<div class="t" style="left:1265.2px;top:626.6px;font-size:23.8px;color:#9A9A9E;letter-spacing:1.60px;">$0</div>
<div class="t" style="left:1578.7px;top:573.0px;font-size:29px;color:#141217;letter-spacing:0.24px;">Total</div>
<div class="t" style="left:1578.9px;top:626.6px;font-size:23.8px;color:#9A9A9E;letter-spacing:1.60px;">$0</div>
<div class="t" style="left:622.7px;top:734.8px;font-size:29px;color:#141217;letter-spacing:0.21px;">Category</div>
<div class="t" style="left:1023.2px;top:734.8px;font-size:29px;color:#141217;letter-spacing:1.29px;">+/-</div>
<div class="t" style="left:1233.8px;top:734.8px;font-size:29px;color:#141217;letter-spacing:-0.48px;">Type</div>
<div class="t" style="left:1554.9px;top:734.8px;font-size:29px;color:#141217;">$</div>
<div class="t" style="left:1792.8px;top:734.8px;font-size:29px;color:#141217;letter-spacing:-0.10px;">Start</div>
<div class="t" style="left:2024.9px;top:734.8px;font-size:29px;color:#141217;letter-spacing:-0.23px;">End</div>
<div class="t" style="left:2199.1px;top:734.8px;font-size:29px;color:#141217;letter-spacing:0.55px;">Validator</div>
<div class="t" style="left:2383.1px;top:734.8px;font-size:29px;color:#141217;letter-spacing:0.36px;">Validated?</div>
<div class="t" style="left:627.6px;top:850.3px;font-size:28px;color:#6B7A93;letter-spacing:0.43px;">vehicle managers</div>
<div class="t" style="left:1037.3px;top:850.3px;font-size:28px;color:#6B7A93;">-</div>
<div class="t" style="left:1182.0px;top:850.3px;font-size:28px;color:#6B7A93;letter-spacing:0.64px;">Choose type</div>
<div class="t" style="left:1499.9px;top:849.4px;font-size:29px;color:#6B7A93;letter-spacing:0.35px;">$250,222</div>
<div class="t" style="left:627.6px;top:962.3px;font-size:28px;color:#6B7A93;letter-spacing:0.43px;">vehicle managers</div>
<div class="t" style="left:1030.8px;top:962.3px;font-size:28px;color:#6B7A93;">-</div>
<div class="t" style="left:1206.0px;top:962.3px;font-size:28px;color:#6B7A93;letter-spacing:1.60px;">Ongoing</div>
<div class="t" style="left:1499.9px;top:961.4px;font-size:29px;color:#6B7A93;letter-spacing:0.35px;">$250,222</div>
<div class="t" style="left:627.6px;top:1074.3px;font-size:28px;color:#6B7A93;letter-spacing:0.43px;">vehicle managers</div>
<div class="t" style="left:1030.8px;top:1074.3px;font-size:28px;color:#6B7A93;">-</div>
<div class="t" style="left:1200.8px;top:1074.3px;font-size:28px;color:#6B7A93;letter-spacing:0.64px;">One Time</div>
<div class="t" style="left:1499.9px;top:1073.4px;font-size:29px;color:#6B7A93;letter-spacing:0.35px;">$250,222</div>
<div class="t" style="left:627.6px;top:1186.3px;font-size:28px;color:#6E6874;letter-spacing:0.43px;">vehicle managers</div>
<div class="t" style="left:1030.8px;top:1186.3px;font-size:28px;color:#6B7A93;">-</div>
<div class="t" style="left:1182.0px;top:1186.3px;font-size:28px;color:#6B7A93;letter-spacing:0.64px;">Choose type</div>
<div class="t" style="left:1499.9px;top:1185.4px;font-size:29px;color:#6B7A93;letter-spacing:0.35px;">$250,222</div>
<div class="t" style="left:627.6px;top:1298.3px;font-size:28px;color:#6B7A93;letter-spacing:0.43px;">vehicle managers</div>
<div class="t" style="left:1027.8px;top:1298.3px;font-size:28px;color:#6B7A93;">+</div>
<div class="t" style="left:1182.0px;top:1298.3px;font-size:28px;color:#6B7A93;letter-spacing:0.64px;">Choose type</div>
<div class="t" style="left:1498.9px;top:1297.4px;font-size:29px;color:#6B7A93;letter-spacing:0.35px;">$250,222</div>
<div class="t" style="left:686.8px;top:1400.6px;font-size:24px;color:#A6A6AA;letter-spacing:1.60px;">Add</div>
</div>
</body></html>
